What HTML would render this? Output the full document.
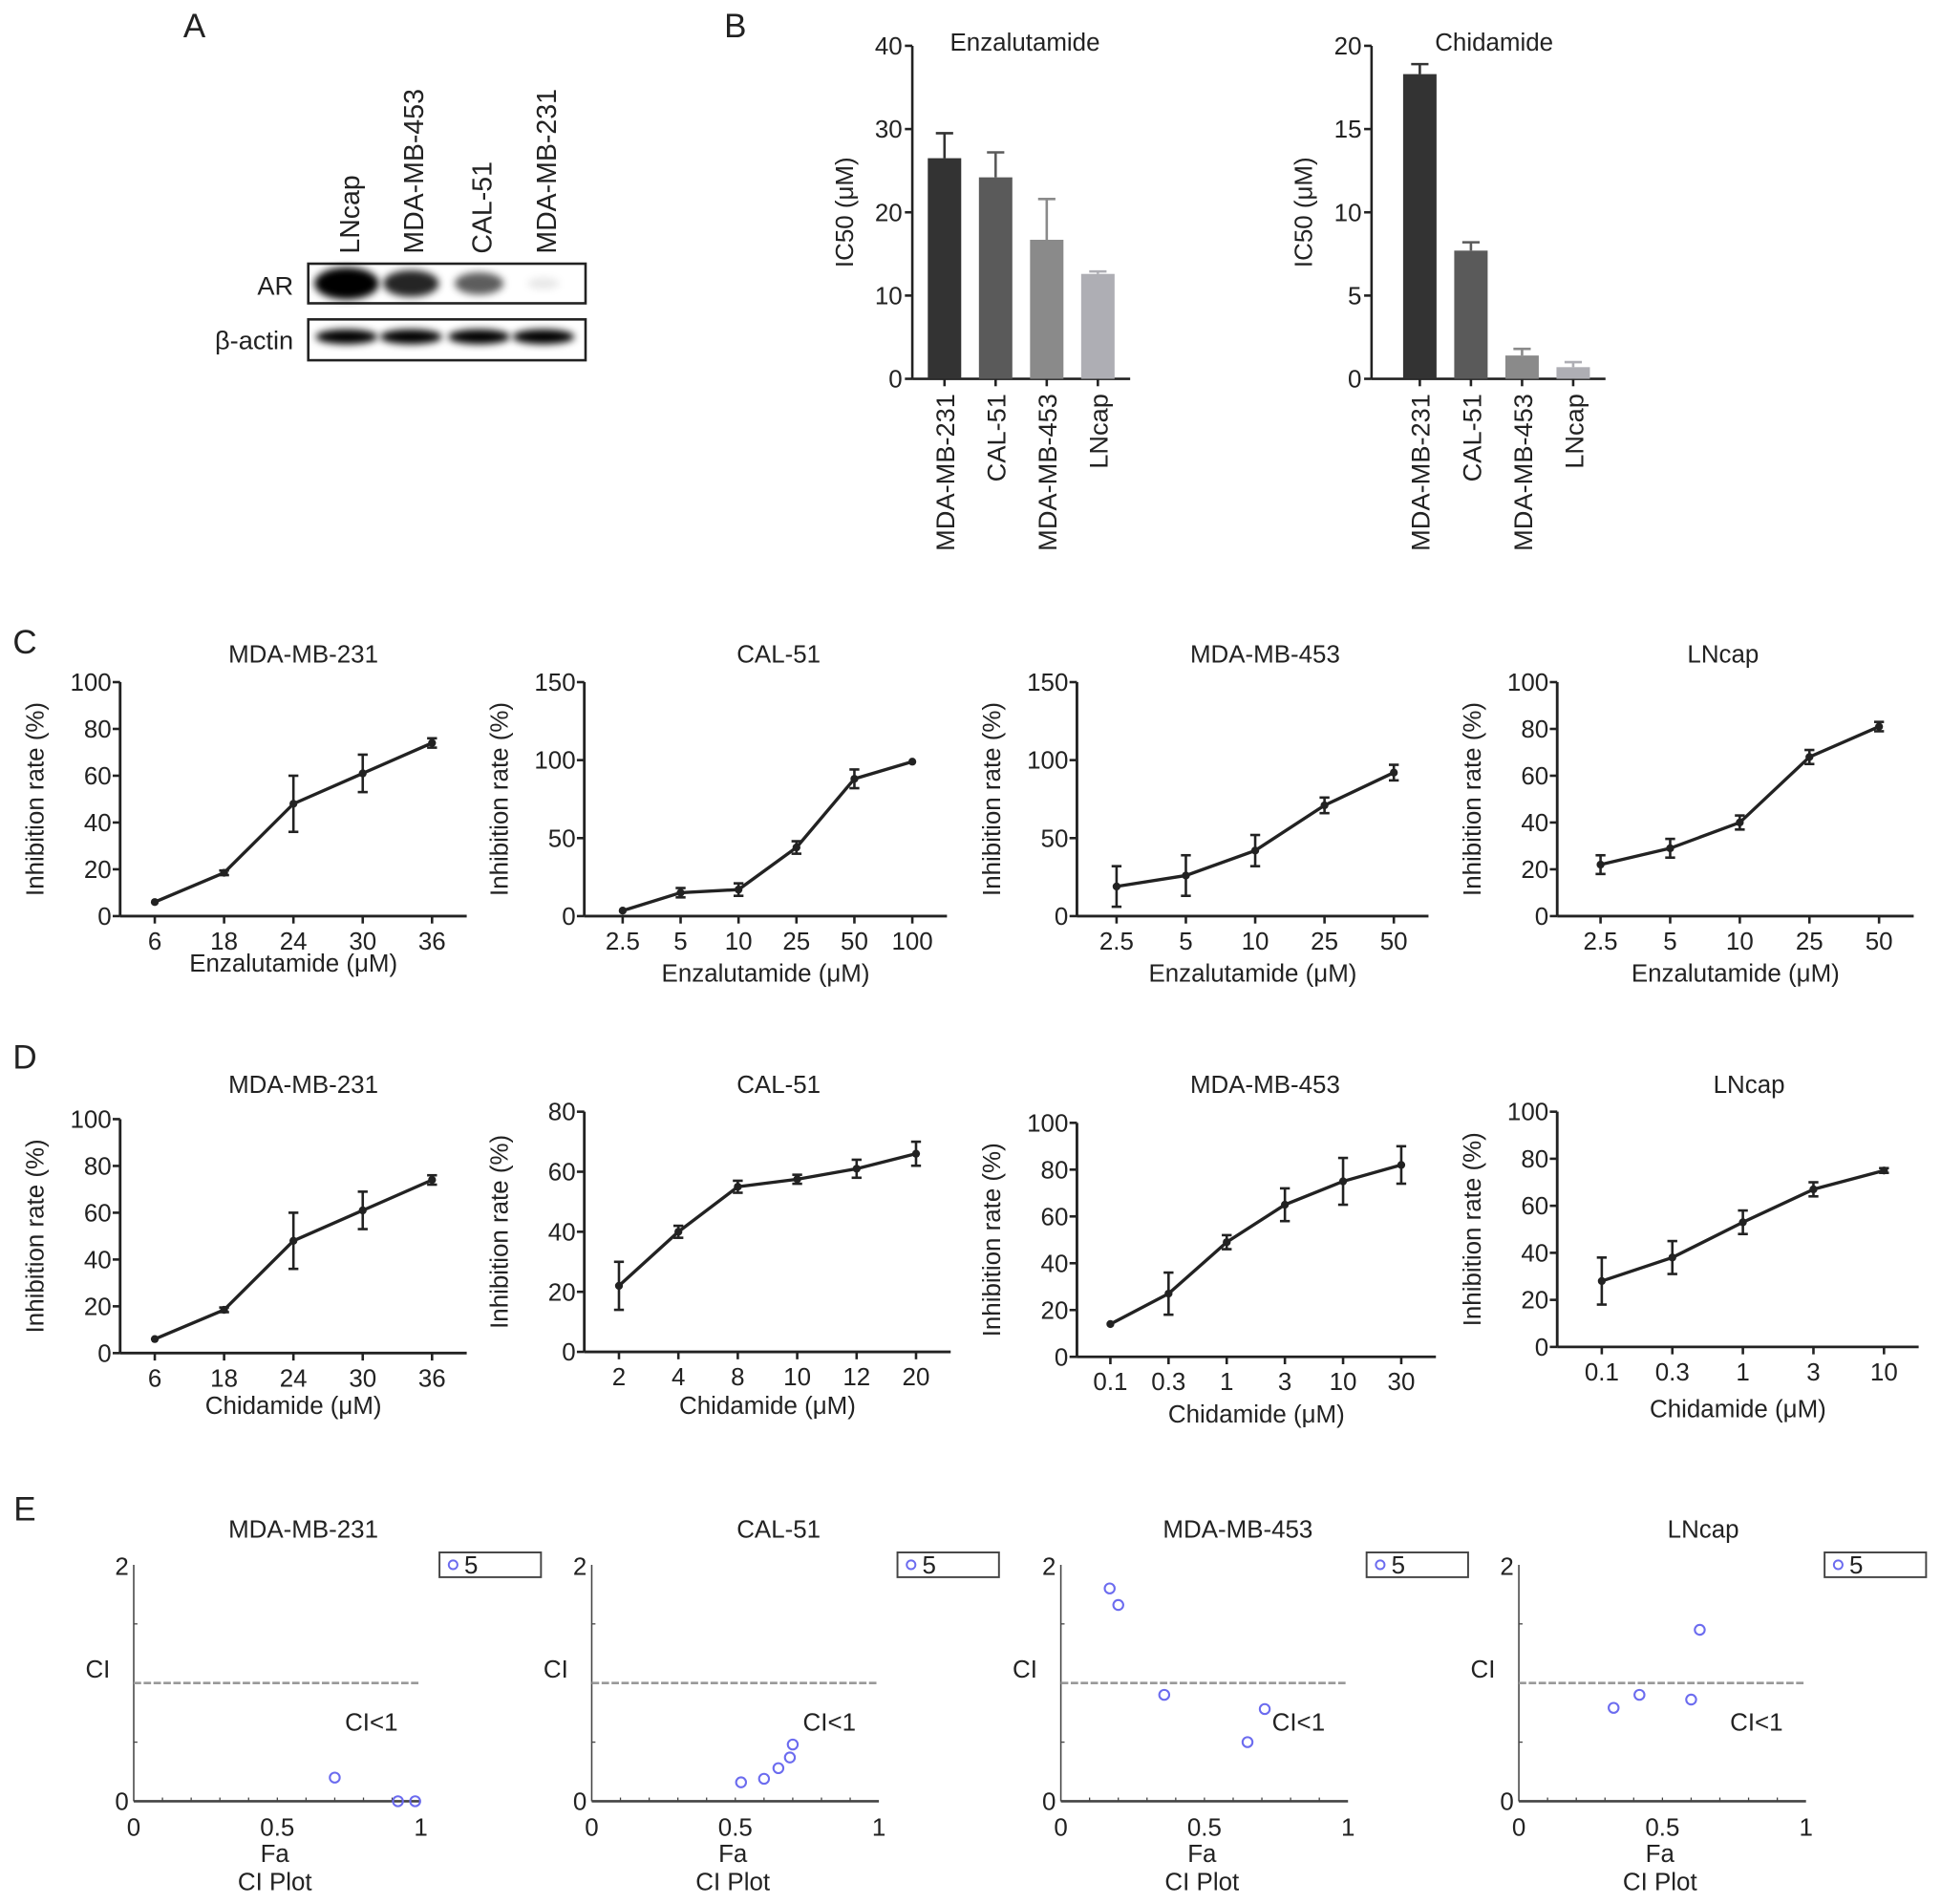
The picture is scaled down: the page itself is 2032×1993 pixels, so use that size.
<!DOCTYPE html>
<html><head><meta charset="utf-8"><style>
html,body{margin:0;padding:0;background:#fff}
svg{display:block}
text{font-family:"Liberation Sans",sans-serif;fill:#222}
</style></head><body>
<svg id="fig" width="2032" height="1993" viewBox="0 0 1568 1538" xmlns="http://www.w3.org/2000/svg">
<defs><filter id="blur" x="-50%" y="-50%" width="200%" height="200%"><feGaussianBlur stdDeviation="3"/></filter></defs>
<g id="root"></g>
</svg>
<script>
// ---------- data ----------
const blotLanes = ["LNcap","MDA-MB-453","CAL-51","MDA-MB-231"];
const arIntensity = [1.0,0.75,0.55,0.06];
const icCats = ["MDA-MB-231","CAL-51","MDA-MB-453","LNcap"];
const icEnza = [26.5,24.2,16.7,12.6];
const icEnzaErr = [3.0,3.0,4.9,0.3];
const icChid = [18.3,7.7,1.4,0.7];
const icChidErr = [0.6,0.5,0.4,0.3];
const barColors = ["#333333","#5a5a5a","#8a8a8a","#aeaeb4"];

const c1x = ["6","18","24","30","36"], c1y = [6,18.5,48,61,74], c1e = [0,1,12,8,2];
const c2x = ["2.5","5","10","25","50","100"], c2y = [3.5,15,17,44,88,99], c2e = [0,3,4,4,6,0];
const c3x = ["2.5","5","10","25","50"], c3y = [19,26,42,71,92], c3e = [13,13,10,5,5];
const c4x = ["2.5","5","10","25","50"], c4y = [22,29,40,68,81], c4e = [4,4,3,3,2];
const d1x = ["6","18","24","30","36"], d1y = [6,18.5,48,61,74], d1e = [0,1,12,8,2];
const d2x = ["2","4","8","10","12","20"], d2y = [22,40,55,57.5,61,66], d2e = [8,2,2,1.5,3,4];
const d3x = ["0.1","0.3","1","3","10","30"], d3y = [14,27,49,65,75,82], d3e = [0,9,3,7,10,8];
const d4x = ["0.1","0.3","1","3","10"], d4y = [28,38,53,67,75], d4e = [10,7,5,3,1];

const e1fa = [0.70,0.92,0.98], e1ci = [0.20,0.0,0.0];
const e2fa = [0.52,0.60,0.65,0.69,0.70], e2ci = [0.16,0.19,0.28,0.37,0.48];
const e3fa = [0.17,0.20,0.36,0.65,0.71], e3ci = [1.8,1.66,0.9,0.5,0.78];
const e4fa = [0.33,0.42,0.60,0.63], e4ci = [0.79,0.90,0.86,1.45];

// ---------- helpers ----------
const NS="http://www.w3.org/2000/svg";
const root=document.getElementById('root');
function el(tag,attrs,parent,txt){const e=document.createElementNS(NS,tag);for(const k in attrs)e.setAttribute(k,attrs[k]);if(txt!==undefined)e.textContent=txt;(parent||root).appendChild(e);return e;}
function line(x1,y1,x2,y2,p,w,c,name){const l=el('line',{x1,y1,x2,y2,stroke:c||'#222','stroke-width':w||2},p);return l;}
function text(x,y,s,p,size,anchor,name,rot){const a={x,y,'font-size':size||20,'text-anchor':anchor||'middle'};if(rot)a.transform=`rotate(-90 ${x} ${y})`;const t=el('text',a,p,s);return t;}
function group(name){const g=el('g',{});return g;}

// panel letters
[["A",157,30],["B",594,30],["C",20,528],["D",20,863],["E",20,1228]].forEach(([l,x,y])=>{text(x,y,l,root,27,'middle','panel-letter-'+l.toLowerCase());});

// ---------- panel A blot ----------
(function(){
  const g=group('western-blot');
  const laneX=[283,335,390,442];
  blotLanes.forEach((n,i)=>{text(laneX[i]+7,205,n,g,22,'start','lane-label',true);});
  const arBox=el('rect',{x:249,y:213,width:224,height:32,fill:'#fff',stroke:'#222','stroke-width':2},g);
  
  const acBox=el('rect',{x:249,y:258,width:224,height:33,fill:'#fff',stroke:'#222','stroke-width':2},g);
  
  arIntensity.forEach((v,i)=>{
    const b=el('ellipse',{cx:laneX[i]-3,cy:229,rx:12+14*v,ry:4+9*v,fill:'#000','fill-opacity':Math.min(1,v*1.1+0.03),filter:'url(#blur)'},g);
    
    const a=el('ellipse',{cx:laneX[i]-3,cy:272,rx:25,ry:6,fill:'#000',filter:'url(#blur)'},g);
    
  });
  text(237,238,"AR",g,21,'end','ar-label');
  text(237,282,"β-actin",g,21,'end','actin-label');
})();

// ---------- panel B bars ----------
function barChart(name,ax,y0,ytop,ymax,step,vals,errs,title,tx,off){
  const g=group(name);
  const sy=v=>y0-(v/ymax)*(y0-ytop);
  line(ax,y0,ax,ytop,g,2);
  line(ax,y0,ax+off+150,y0,g,2);
  for(let v=0;v<=ymax;v+=step){line(ax-6,sy(v),ax,sy(v),g,2,null,'y-tick');text(ax-8,sy(v)+7,String(v),g,20,'end','y-tick-label');}
  text(ax-48,(y0+ytop)/2,"IC50 (μM)",g,20,'middle','y-axis-title',true);
  text(tx,41,title,g,20,'middle','chart-title');
  vals.forEach((v,i)=>{
    const cx=ax+off+i*41.3;
    const r=el('rect',{x:cx-13.5,y:sy(v),width:27,height:y0-sy(v),fill:barColors[i]},g);
    
    line(cx,sy(v),cx,sy(v+errs[i]),g,2,barColors[i],'error-bar');
    line(cx-7,sy(v+errs[i]),cx+7,sy(v+errs[i]),g,2,barColors[i],'error-cap');
    line(cx,y0,cx,y0+6,g,2,null,'x-tick');
    text(cx+8,y0+12,icCats[i],g,21,'end','x-tick-label',true);
  });
}
barChart('ic50-enzalutamide-chart',737,306,37,40,10,icEnza,icEnzaErr,"Enzalutamide",828,26);
barChart('ic50-chidamide-chart',1108,306,37,20,5,icChid,icChidErr,"Chidamide",1207,39);

// ---------- panels C/D line charts ----------
function lineChart(name,ax,y0,ytop,ymax,step,x0,dx,cats,vals,errs,title,tx,ty,xl,xly){
  const g=group(name);
  const sy=v=>y0-(v/ymax)*(y0-ytop);
  const sx=i=>x0+i*dx;
  const xend=sx(cats.length-1)+28;
  line(ax,y0,ax,ytop,g,2.2);
  line(ax,y0,xend,y0,g,2.2);
  for(let v=0;v<=ymax;v+=step){line(ax-6,sy(v),ax,sy(v),g,2,null,'y-tick');text(ax-7,sy(v)+7,String(v),g,20,'end','y-tick-label');}
  text(ax-62,(y0+ytop)/2,"Inhibition rate (%)",g,20,'middle','y-axis-title',true);
  text(tx,ty,title,g,20,'middle','chart-title');
  cats.forEach((c,i)=>{line(sx(i),y0,sx(i),y0+6,g,2,null,'x-tick');text(sx(i),y0+27,c,g,20,'middle','x-tick-label');});
  text((ax+xend)/2,xly,xl,g,20,'middle','x-axis-title');
  const pts=vals.map((v,i)=>sx(i)+','+sy(v)).join(' ');
  const pl=el('polyline',{points:pts,fill:'none',stroke:'#222','stroke-width':2.6},g);
  
  vals.forEach((v,i)=>{
    const x=sx(i);
    if(errs[i]>0){
      line(x,sy(v-errs[i]),x,sy(v+errs[i]),g,2,null,'error-bar');
      line(x-4,sy(v-errs[i]),x+4,sy(v-errs[i]),g,2,null,'error-cap');
      line(x-4,sy(v+errs[i]),x+4,sy(v+errs[i]),g,2,null,'error-cap');
    }
    const p=el('circle',{cx:x,cy:sy(v),r:3.2,fill:'#222'},g);
    
  });
}
const EZ="Enzalutamide (μM)", CH="Chidamide (μM)";
lineChart('c-mda-mb-231',97,740,551,100,20,125,56,c1x,c1y,c1e,"MDA-MB-231",245,535,EZ,785);
lineChart('c-cal-51',472,740,551,150,50,503,46.8,c2x,c2y,c2e,"CAL-51",629,535,EZ,793);
lineChart('c-mda-mb-453',870,740,551,150,50,902,56,c3x,c3y,c3e,"MDA-MB-453",1022,535,EZ,793);
lineChart('c-lncap',1258,740,551,100,20,1293,56.25,c4x,c4y,c4e,"LNcap",1392,535,EZ,793);
lineChart('d-mda-mb-231',97,1093,904,100,20,125,56,d1x,d1y,d1e,"MDA-MB-231",245,883,CH,1142);
lineChart('d-cal-51',472,1092,898,80,20,500,48,d2x,d2y,d2e,"CAL-51",629,883,CH,1142);
lineChart('d-mda-mb-453',870,1096,907,100,20,897,47,d3x,d3y,d3e,"MDA-MB-453",1022,883,CH,1149);
lineChart('d-lncap',1258,1088,898,100,20,1294,57,d4x,d4y,d4e,"LNcap",1413,883,CH,1145);

// ---------- panel E CI plots ----------
function ciPlot(name,ax,fa,ci,title,tx){
  const g=group(name);
  const y0=1455, ytop=1264, w=232;
  const sx=v=>ax+v*w, sy=v=>y0-(v/2)*(y0-ytop);
  line(ax,y0,ax,ytop,g,1.2,'#444');
  line(ax,y0,ax+w,y0,g,2,'#444');
  for(let k=1;k<10;k++){line(sx(k/10),y0,sx(k/10),y0-3,g,1,'#444','minor-tick');}
  for(let k=1;k<4;k++){line(ax,sy(k/2),ax+3,sy(k/2),g,1,'#444','minor-tick');}
  const dl=line(ax,sy(1),ax+w,sy(1),g,2,'#999','ci-reference-line');dl.setAttribute('stroke-dasharray','6 2');
  text(ax-4,sy(2)+8,"2",g,20,'end','y-tick-label');
  text(ax-4,y0+7,"0",g,20,'end','y-tick-label');
  [0,0.5,1].forEach(v=>text(sx(v),y0+28,String(v),g,20,'middle','x-tick-label'));
  text(ax-29,1355,"CI",g,20,'middle','y-axis-title');
  text(ax+192,1398,"CI<1",g,20,'middle','ci-annotation');
  text(ax+114,1504,"Fa",g,20,'middle','x-axis-title');
  text(ax+114,1527,"CI Plot",g,20,'middle','plot-caption');
  text(tx,1242,title,g,20,'middle','chart-title');
  const lb=el('rect',{x:ax+247,y:1254,width:82,height:20,fill:'#fff',stroke:'#444','stroke-width':1.5},g);
  
  const lc=el('circle',{cx:ax+258,cy:1264,r:3.5,fill:'none',stroke:'#6b6bef','stroke-width':1.5},g);
  
  text(ax+267,1271,"5",g,20,'start','legend-entry');
  fa.forEach((f,i)=>{
    const c=el('circle',{cx:sx(f),cy:sy(ci[i]),r:4,fill:'none',stroke:'#6b6bef','stroke-width':1.6},g);
    
  });
}
ciPlot('e-mda-mb-231',108,e1fa,e1ci,"MDA-MB-231",245);
ciPlot('e-cal-51',478,e2fa,e2ci,"CAL-51",629);
ciPlot('e-mda-mb-453',857,e3fa,e3ci,"MDA-MB-453",1000);
ciPlot('e-lncap',1227,e4fa,e4ci,"LNcap",1376);
</script>
</body></html>
